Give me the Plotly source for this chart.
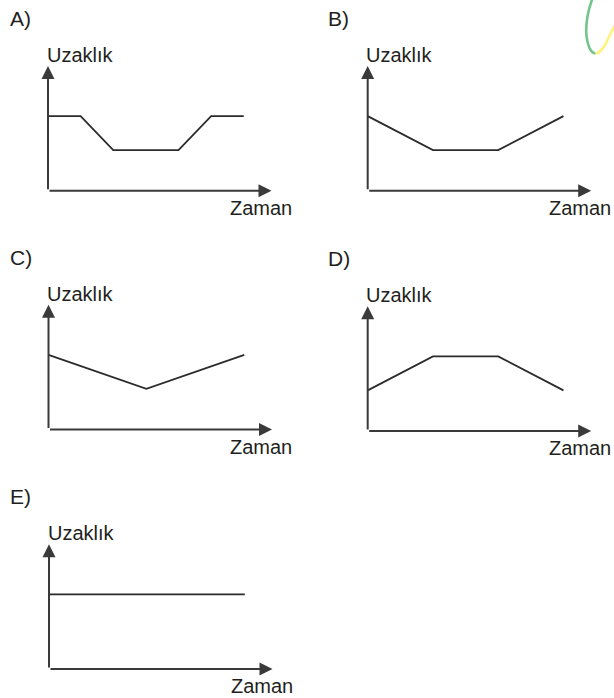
import plotly.graph_objects as go

# Five distance-time sketches (Uzaklık vs Zaman), one per answer option
options = ["A)", "B)", "C)", "D)", "E)"]
time_a = [0, 1, 2, 4, 5, 6]
dist_a = [11, 11, 6, 6, 11, 11]
time_b = [0, 2, 4, 6]
dist_b = [11, 6, 6, 11]
time_c = [0, 3, 6]
dist_c = [11, 6, 11]
time_d = [0, 2, 4, 6]
dist_d = [6, 11, 11, 6]
time_e = [0, 6]
dist_e = [11, 11]
y_label = "Uzaklık"
x_label = "Zaman"

series = [(time_a, dist_a), (time_b, dist_b), (time_c, dist_c),
          (time_d, dist_d), (time_e, dist_e)]

W, H = 614, 698
X_MAX, Y_MAX = 6.85, 18.4          # axis arrow tips in data units
PANEL_W, PANEL_H = 223.5, 124.7    # pixel length of each pair of axes
# pixel position of each panel's origin
origins = [(48, 190.7), (367.7, 190.7), (48.5, 429.5), (367.7, 431), (49, 669)]

AXIS_COLOR = "#3a3a3a"
LINE_COLOR = "#2b2b2b"
TEXT_COLOR = "#231f20"
FONT = "Liberation Sans"


def px(x):
    return x / W


def py(y):
    return 1 - y / H


fig = go.Figure()
annotations = []
layout_axes = {}

for i, ((t, d), opt, (ox, oy)) in enumerate(zip(series, options, origins)):
    n = "" if i == 0 else str(i + 1)
    xa, ya = "x" + n, "y" + n
    layout_axes["xaxis" + n] = dict(domain=[px(ox), px(ox + PANEL_W)], range=[0, X_MAX],
                                    visible=False, anchor=ya, fixedrange=True)
    layout_axes["yaxis" + n] = dict(domain=[py(oy), py(oy - PANEL_H)], range=[0, Y_MAX],
                                    visible=False, anchor=xa, fixedrange=True)

    fig.add_trace(go.Scatter(x=t, y=d, mode="lines", xaxis=xa, yaxis=ya,
                             line=dict(color=LINE_COLOR, width=1.8),
                             cliponaxis=False, showlegend=False, hoverinfo="skip"))

    # axes with arrowheads
    for (tx, ty) in [(X_MAX, 0), (0, Y_MAX)]:
        annotations.append(dict(x=tx, y=ty, ax=0, ay=0, xref=xa, yref=ya, axref=xa, ayref=ya,
                                text="", showarrow=True, arrowhead=2, arrowsize=1.3,
                                arrowwidth=2, arrowcolor=AXIS_COLOR, standoff=0))

    left_x = 8 if ox < 300 else 326
    annotations.append(dict(x=px(left_x), y=py(oy - 172.5), xref="paper", yref="paper",
                            text=opt, showarrow=False, xanchor="left", yanchor="middle",
                            font=dict(family=FONT, size=21, color=TEXT_COLOR)))
    annotations.append(dict(x=px(ox - 3.5), y=py(oy - PANEL_H - 11), xref="paper", yref="paper",
                            text=y_label, showarrow=False, xanchor="left", yanchor="middle",
                            font=dict(family=FONT, size=20, color=TEXT_COLOR)))
    annotations.append(dict(x=px(ox + PANEL_W + 22), y=py(oy + 17), xref="paper", yref="paper",
                            text=x_label, showarrow=False, xanchor="right", yanchor="middle",
                            font=dict(family=FONT, size=20, color=TEXT_COLOR)))


def pth(points):
    # cubic path in paper coordinates from pixel points
    (x0, y0), rest = points[0], points[1:]
    s = f"M {px(x0):.5f},{py(y0):.5f}"
    for k in range(0, len(rest), 3):
        seg = rest[k:k + 3]
        s += " C " + " ".join(f"{px(a):.5f},{py(b):.5f}" for a, b in seg)
    return s


shapes = [
    dict(type="path", xref="paper", yref="paper",
         path=pth([(593, -3), (588, 10), (585.5, 25), (586.5, 36),
                   (587.5, 46), (591, 53), (595.5, 53.5)]),
         line=dict(color="#72c68c", width=2.6)),
    dict(type="path", xref="paper", yref="paper",
         path=pth([(595.5, 53.5), (600, 53.5), (605, 46), (608, 39),
                   (611, 33), (613, 29), (616, 23)]),
         line=dict(color="#fff27d", width=2.6)),
]

fig.update_layout(width=W, height=H, margin=dict(l=0, r=0, t=0, b=0),
                  paper_bgcolor="white", plot_bgcolor="white",
                  annotations=annotations, shapes=shapes, **layout_axes)

fig.write_html("out.html")
